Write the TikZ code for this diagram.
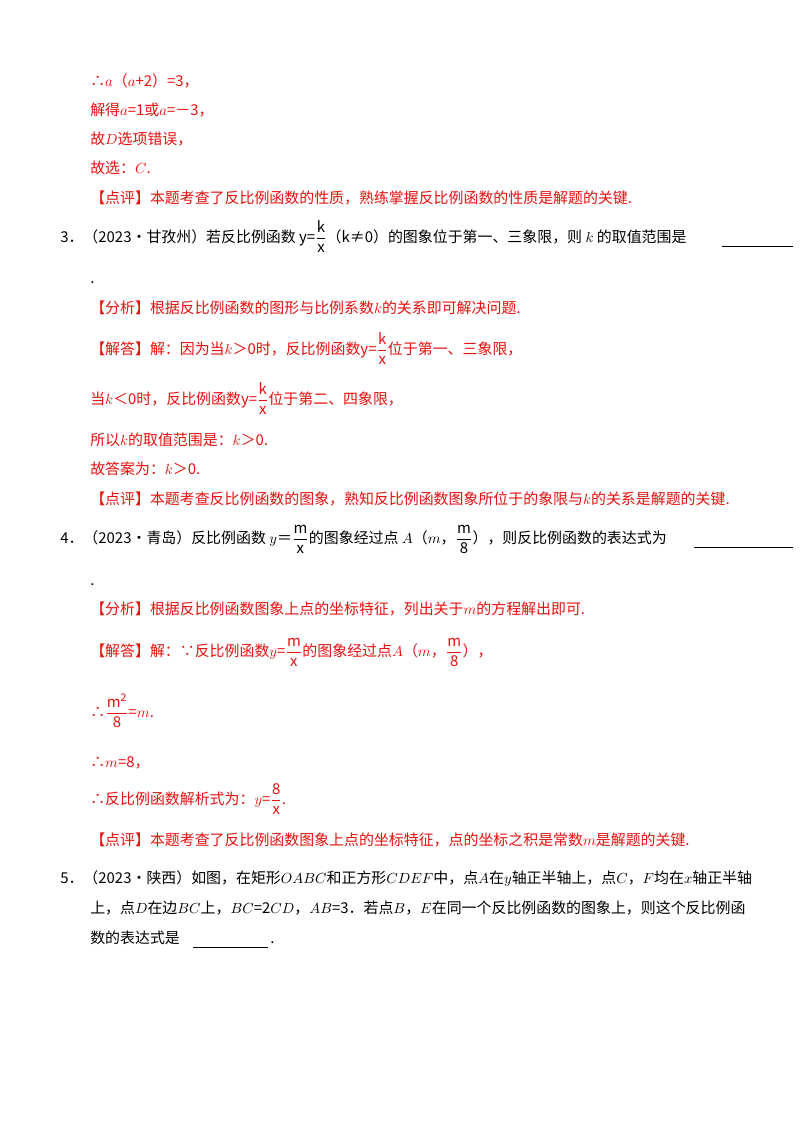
\documentclass[tikz,border=0pt]{standalone}
\usepackage{fontspec}
\setmainfont{Noto Sans CJK SC}
\definecolor{rd}{HTML}{E8110F}
\newcommand{\fr}[2]{$\displaystyle\frac{\mathrm{#1}}{\mathrm{#2}}$}
\begin{document}
\begin{tikzpicture}[x=0.75pt,y=-0.75pt,
  t/.style={anchor=base west,inner sep=0pt,font=\fontsize{11.2}{12}\selectfont},
  r/.style={t,text=rd}]
\useasboundingbox (0,0) rectangle (800,1132);
\fill[white] (0,0) rectangle (800,1132);
\node[r] (l1) at (90,86) {∴$a$（$a$+2）=3，};
\node[r] (l2) at (90,115) {解得$a$=1或$a$=－3，};
\node[r] (l3) at (90,144) {故$D$选项错误，};
\node[r] (l4) at (90,173) {故选：$C$.};
\node[r] (l5) at (90,203) {【点评】本题考查了反比例函数的性质，熟练掌握反比例函数的性质是解题的关键.};
\node[t] (q3) at (60,242) {3．（2023•甘孜州）若反比例函数 y=\fr{k}{x}（k≠0）的图象位于第一、三象限，则 $k$ 的取值范围是};
\draw (722,246) -- (793,246);
\node[t] (q3b) at (90,283) {.};
\node[r] (a1) at (90,313) {【分析】根据反比例函数的图形与比例系数$k$的关系即可解决问题.};
\node[r] (a2) at (90,354) {【解答】解：因为当$k$＞0时，反比例函数y=\fr{k}{x}位于第一、三象限，};
\node[r] (a3) at (90,404) {当$k$＜0时，反比例函数y=\fr{k}{x}位于第二、四象限，};
\node[r] (a4) at (90,445) {所以$k$的取值范围是：$k$＞0.};
\node[r] (a5) at (90,474) {故答案为：$k$＞0.};
\node[r] (a6) at (90,504) {【点评】本题考查反比例函数的图象，熟知反比例函数图象所位于的象限与$k$的关系是解题的关键.};
\node[t] (q4) at (60,543) {4．（2023•青岛）反比例函数 $y$＝\fr{m}{x}的图象经过点 $A$（$m$，\fr{m}{8}），则反比例函数的表达式为};
\draw (694,547) -- (793,547);
\node[t] (q4b) at (90,585) {.};
\node[r] (b1) at (90,614) {【分析】根据反比例函数图象上点的坐标特征，列出关于$m$的方程解出即可.};
\node[r] (b2) at (90,656) {【解答】解：∵反比例函数$y$=\fr{m}{x}的图象经过点$A$（$m$，\fr{m}{8}），};
\node[r] (b3) at (90,717) {∴\fr{m^2}{8}=$m$.};
\node[r] (b4) at (90,767) {∴$m$=8，};
\node[r] (b5) at (90,804) {∴反比例函数解析式为：$y$=\fr{8}{x}.};
\node[r] (b6) at (90,845) {【点评】本题考查了反比例函数图象上点的坐标特征，点的坐标之积是常数$m$是解题的关键.};
\node[t] (q5) at (60,883) {5．（2023•陕西）如图，在矩形$OABC$和正方形$CDEF$中，点$A$在$y$轴正半轴上，点$C$，$F$均在$x$轴正半轴};
\node[t] (q5b) at (90,913) {上，点$D$在边$BC$上，$BC$=2$CD$，$AB$=3．若点$B$，$E$在同一个反比例函数的图象上，则这个反比例函};
\node[t] (q5c) at (90,943) {数的表达式是};
\draw (193,947) -- (268,947);
\node[t] (q5d) at (270,943) {.};
\end{tikzpicture}
\end{document}
